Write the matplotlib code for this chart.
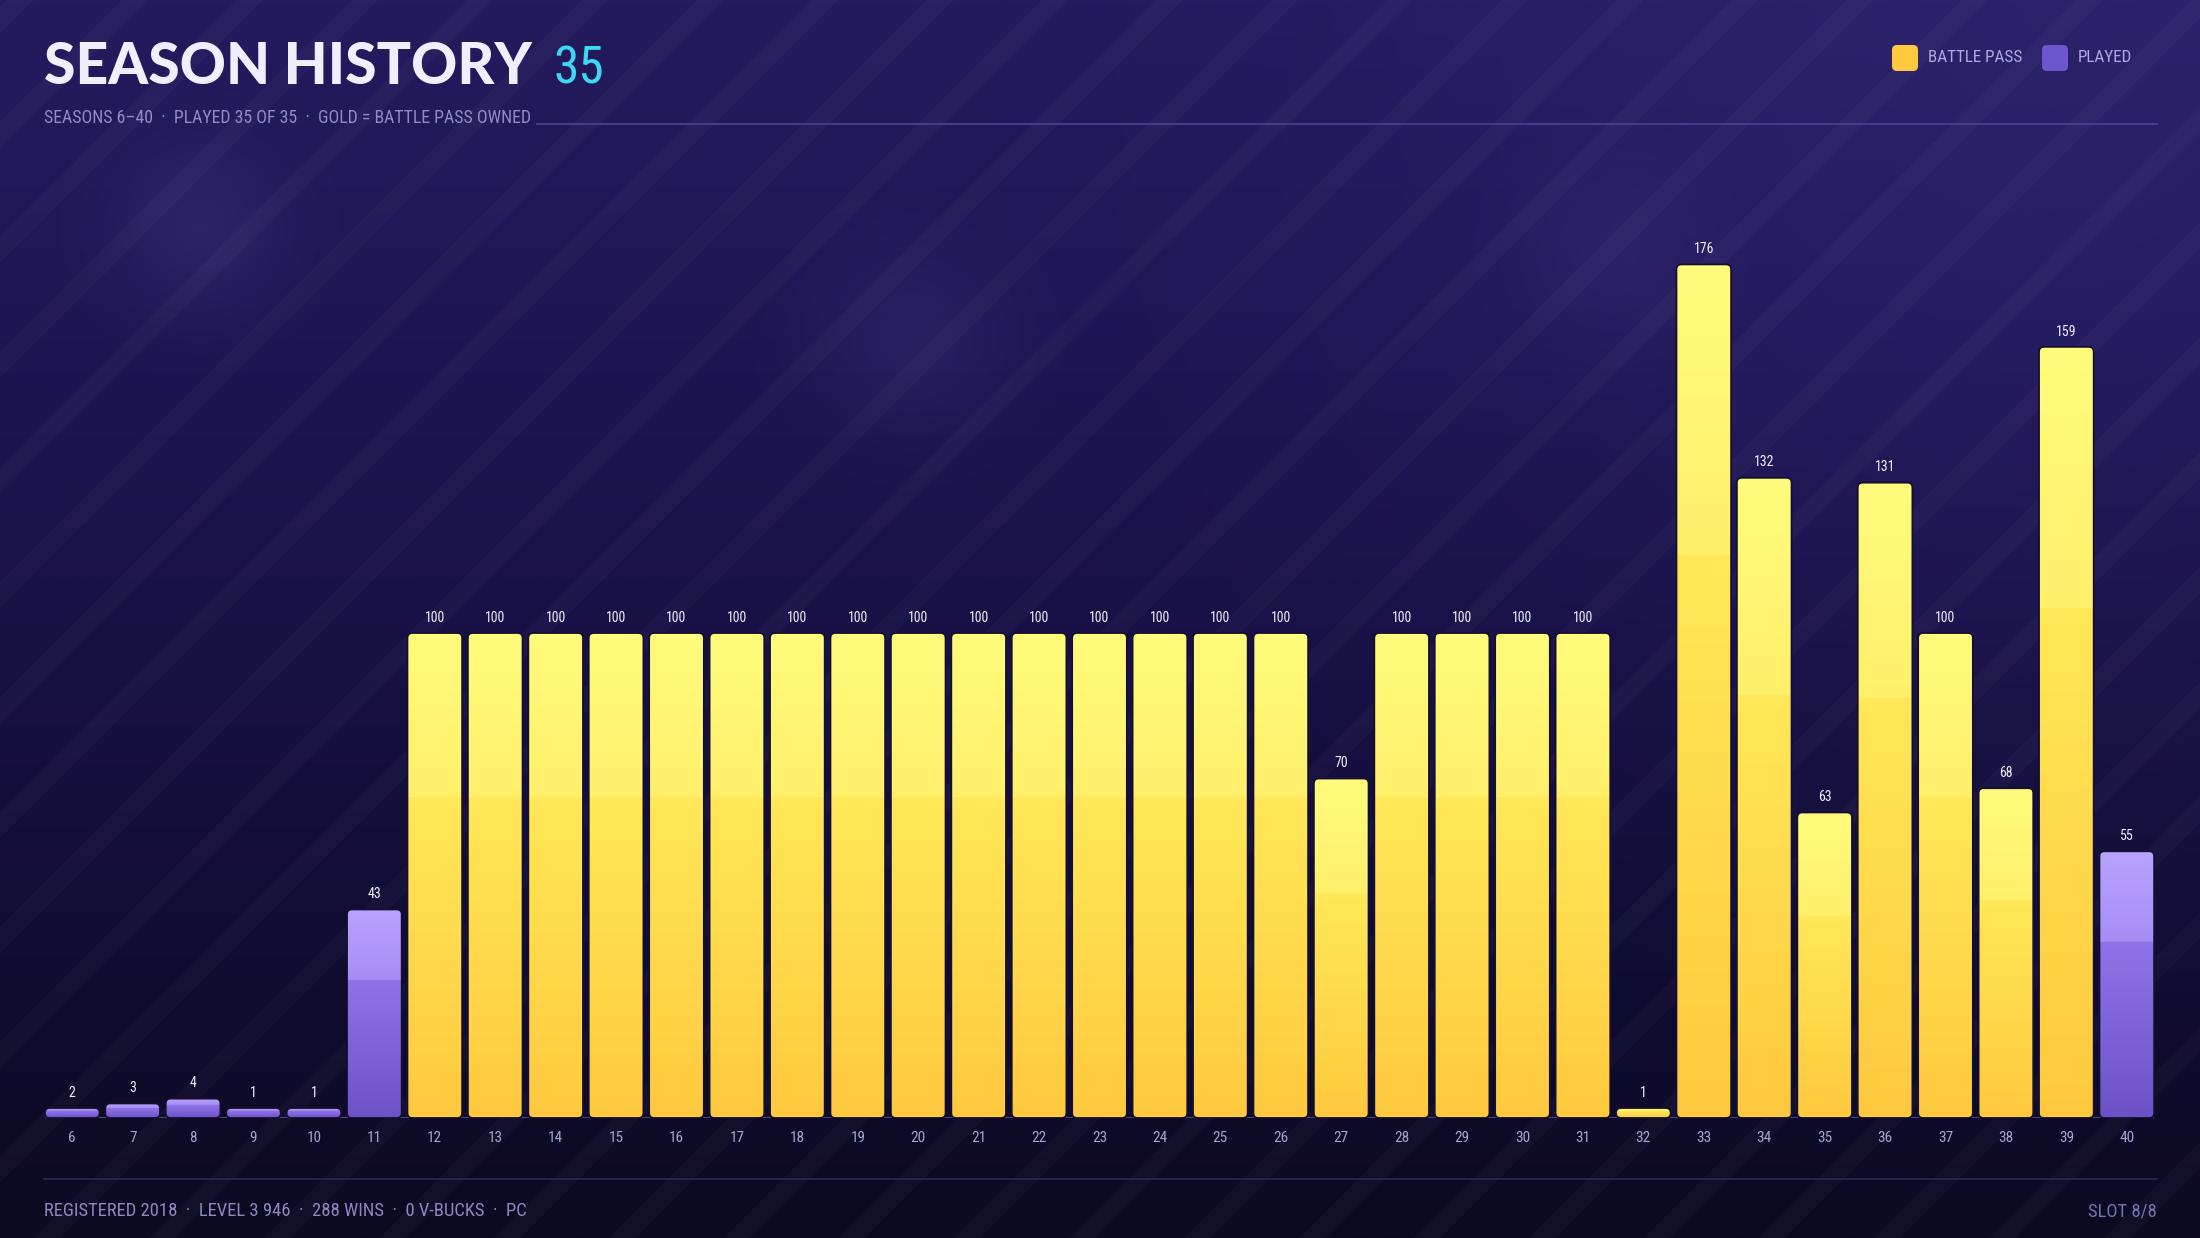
import matplotlib
matplotlib.use('Agg')
import matplotlib.pyplot as plt
import numpy as np
from matplotlib import font_manager as fm
from matplotlib.patches import FancyBboxPatch, Polygon
import matplotlib.colors as mcolors

# ---------------- data ----------------
seasons = [6, 7, 8, 9, 10, 11, 12, 13, 14, 15, 16, 17, 18, 19, 20, 21, 22, 23,
           24, 25, 26, 27, 28, 29, 30, 31, 32, 33, 34, 35, 36, 37, 38, 39, 40]
levels = [2, 3, 4, 1, 1, 43, 100, 100, 100, 100, 100, 100, 100, 100, 100, 100,
          100, 100, 100, 100, 100, 70, 100, 100, 100, 100, 1, 176, 132, 63, 131,
          100, 68, 159, 55]
battle_pass = [False, False, False, False, False, False, True, True, True, True,
               True, True, True, True, True, True, True, True, True, True, True,
               True, True, True, True, True, True, True, True, True, True, True,
               True, True, False]

title = "SEASON HISTORY"
title_count = "35"
subtitle = "SEASONS 6\u201340  \u00b7  PLAYED 35 OF 35  \u00b7  GOLD = BATTLE PASS OWNED"
legend_labels = ["BATTLE PASS", "PLAYED"]
footer_left = "REGISTERED 2018  \u00b7  LEVEL 3 946  \u00b7  288 WINS  \u00b7  0 V-BUCKS  \u00b7  PC"
footer_right = "SLOT 8/8"

# ---------------- fonts ----------------
avail = {f.name for f in fm.fontManager.ttflist}
COND = next((n for n in ['Liberation Sans Narrow', 'Roboto Condensed', 'Open Sans Condensed',
                         'DejaVu Sans'] if n in avail), 'DejaVu Sans')
HEAVY = next((n for n in ['Lato', 'Roboto', 'Inter', 'Open Sans', 'DejaVu Sans'] if n in avail), 'DejaVu Sans')

W, H, DPI = 2200, 1238, 100
fig = plt.figure(figsize=(W / DPI, H / DPI), dpi=DPI)

# ---------------- background ----------------
bg = fig.add_axes([0, 0, 1, 1])
bg.set_xlim(0, W)
bg.set_ylim(H, 0)
bg.axis('off')
stops = [(0.0, '#241b5e'), (0.3, '#1d1553'), (0.55, '#171043'), (0.8, '#100c30'), (1.0, '#0c0922')]
cmap = mcolors.LinearSegmentedColormap.from_list('bg', stops)
bg.imshow(np.linspace(0, 1, 512)[:, None], cmap=cmap, extent=(0, W, H, 0), aspect='auto', zorder=0)


def glow(cx, cy, r, color, amax):
    n = 200
    g = np.linspace(-2, 2, n)
    xx, yy = np.meshgrid(g, g)
    a = amax * np.exp(-(xx ** 2 + yy ** 2))
    rgba = np.zeros((n, n, 4))
    rgba[..., :3] = mcolors.to_rgb(color)
    rgba[..., 3] = a
    bg.imshow(rgba, extent=(cx - 2 * r, cx + 2 * r, cy + 2 * r, cy - 2 * r), aspect='auto',
              zorder=1, interpolation='bilinear')


glow(2050, 0, 650, '#3a3185', 0.35)
glow(200, 225, 90, '#3b3278', 0.45)
glow(912, 337, 100, '#3b3278', 0.35)
glow(1613, 253, 100, '#3b3278', 0.3)

period, band = 115, 26
for c in range(7 - period * 12, W + H + period, period):
    bg.add_patch(Polygon([(c, 0), (c + band, 0), (c + band - H, H), (c - H, H)],
                         closed=True, facecolor='white', alpha=0.028, edgecolor='none', zorder=2))

# title
t = bg.text(44, 84, title, fontsize=41, fontweight=900, family=[HEAVY, 'DejaVu Sans'],
            color='#f1eeff', va='baseline', ha='left', zorder=5)
st = bg.text(44, 123, subtitle, fontsize=12.8, family=[COND, 'DejaVu Sans'], fontstretch='condensed',
             color='#948ac6', va='baseline', ha='left', zorder=5)
fig.canvas.draw()
bb = t.get_window_extent()
x_after = bb.x1 + 22
bg.text(x_after, 84, title_count, fontsize=37, family=[COND, 'DejaVu Sans'], fontstretch='condensed',
        color='#3dd8f2', va='baseline', ha='left', zorder=5)
sub_end = st.get_window_extent().x1 + 6

# header / footer rules
bg.plot([sub_end, 2157], [124, 124], color='#4a4290', lw=1.2, zorder=3)
bg.plot([44, 2157], [1179, 1179], color='#2c2656', lw=1.2, zorder=3)

# legend
gold_c, purple_c = '#ffc93d', '#6e56cf'
for x0, col, lab in [(1892, gold_c, legend_labels[0]), (2042, purple_c, legend_labels[1])]:
    bg.add_patch(FancyBboxPatch((x0, 45), 26, 26, boxstyle='round,pad=0,rounding_size=5',
                                facecolor=col, edgecolor='none', zorder=5))
    bg.text(x0 + 36, 58, lab, fontsize=12.3, family=[COND, 'DejaVu Sans'], fontstretch='condensed',
            color='#b2a8e2', va='center', ha='left', zorder=5)

# footer
bg.text(44, 1216, footer_left, fontsize=13.4, family=[COND, 'DejaVu Sans'], fontstretch='condensed',
        color='#9186c0', va='baseline', ha='left', zorder=5)
bg.text(2157, 1216, footer_right, fontsize=13.4, family=[COND, 'DejaVu Sans'], fontstretch='condensed',
        color='#7a70ad', va='baseline', ha='right', zorder=5)

# ---------------- chart ----------------
left_px, right_px = 42, 2157
base_px, top_px = 1118, 148
ax = fig.add_axes([left_px / W, 1 - base_px / H, (right_px - left_px) / W, (base_px - top_px) / H])
ax.set_facecolor('none')
n = len(seasons)
ymax = 200
ax.set_xlim(-0.5, n - 0.5)
ax.set_ylim(0, ymax)
for s in ax.spines.values():
    s.set_visible(False)
ax.set_yticks([])
ax.set_xticks(range(n))
ax.set_xticklabels([str(s) for s in seasons], fontsize=11, family=[COND, 'DejaVu Sans'],
                   fontstretch='condensed', color='#aaa1d2')
ax.tick_params(axis='x', length=0, pad=9)

px_x = (right_px - left_px) / n
px_y = (base_px - top_px) / ymax
bw = 0.905
r_px = 5
rx = r_px / px_x
masp = px_x / px_y
min_h = 10 / px_y

ax.plot([-0.5 + (1 - bw) / 2, n - 0.5 - (1 - bw) / 2], [0, 0], color='#4b4385', lw=1.5, zorder=1,
        solid_capstyle='butt')


def grad_rows(top, pre, post, bottom, step=0.34, m=300):
    t = np.linspace(0, 1, m)
    cols = np.zeros((m, 1, 3))
    ct, cp, cq, cb = [np.array(mcolors.to_rgb(c)) for c in (top, pre, post, bottom)]
    for i, tt in enumerate(t):
        if tt < step:
            f = tt / step
            cols[i, 0] = ct * (1 - f) + cp * f
        else:
            f = (tt - step) / (1 - step)
            cols[i, 0] = cq * (1 - f) + cb * f
    return cols


gold_grad = grad_rows('#fffb7c', '#fff06c', '#ffe858', '#ffc93f')
purple_grad = grad_rows('#b9a3ff', '#a68df6', '#8f73e6', '#6d51c9')

for i, (v, bp) in enumerate(zip(levels, battle_pass)):
    h = max(v, min_h)
    x0 = i - bw / 2
    clip = FancyBboxPatch((x0, 0), bw, h, boxstyle=f'round,pad=0,rounding_size={rx}',
                          mutation_aspect=masp, transform=ax.transData, facecolor='none')
    im = ax.imshow(gold_grad if bp else purple_grad, extent=(x0, x0 + bw, 0, h), aspect='auto',
                   origin='upper', interpolation='bilinear', zorder=2)
    im.set_clip_path(clip)
    ax.add_patch(FancyBboxPatch((x0, 0), bw, h, boxstyle=f'round,pad=0,rounding_size={rx}',
                                mutation_aspect=masp, facecolor='none', edgecolor='#140f30',
                                lw=1.3, zorder=3))
    ax.annotate(str(v), (i, h), xytext=(0, 6), textcoords='offset points', ha='center',
                va='bottom', fontsize=10, family=[COND, 'DejaVu Sans'], fontstretch='condensed',
                color='#f2eeff', zorder=4)

ax.set_xlim(-0.5, n - 0.5)
ax.set_ylim(0, ymax)

fig.savefig('out.png', dpi=DPI)
